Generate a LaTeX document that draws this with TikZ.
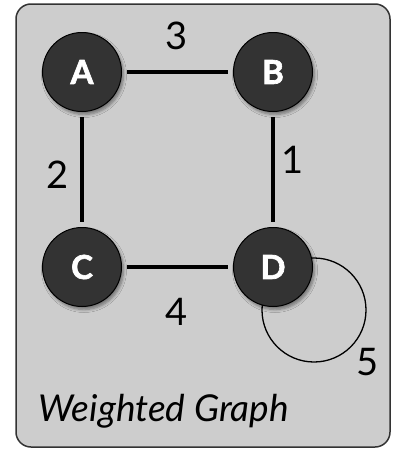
\documentclass[tikz,border=0pt]{standalone}
\usepackage{fontspec}
\setmainfont{Lato}
\newfontfamily\vertexfont{Lato}[BoldFeatures={FakeBold=2}]
\usetikzlibrary{shadows.blur}
\definecolor{panel}{HTML}{CDCDCD}
\definecolor{vertexfill}{HTML}{333333}
\tikzset{
  vertex/.style={circle, draw=black, line width=1pt, fill=vertexfill,
    minimum size=79pt, inner sep=0pt, text=white,
    font=\vertexfont\fontsize{33}{33}\selectfont\bfseries,
    blur shadow={shadow xshift=2pt, shadow yshift=-3pt, shadow blur steps=6,
      shadow blur radius=3pt, shadow opacity=45}},
  edge/.style={line width=4.2pt, shorten <=5pt, shorten >=5pt},
  weight/.style={font=\fontsize{38}{38}\selectfont},
  selfloop/.style={line width=1.3pt}
}
\begin{document}
\begin{tikzpicture}[x=1pt, y=-1pt]
  \useasboundingbox (0,0) rectangle (393,450);
  % panel
  \draw[fill=panel, draw=black!80, line width=1.5pt, rounded corners=15pt]
    (16,4) rectangle (390,447);
  % self-loop on D, drawn first so the vertex covers it
  \coordinate (Dloop) at (314,310);
  \draw[selfloop] (Dloop) circle[radius=52];
  % vertices
  \node[vertex] (A) at (82,72) {A};
  \node[vertex] (B) at (273,72) {B};
  \node[vertex] (C) at (82,267) {C};
  \node[vertex] (D) at (273,267) {D};
  % edges
  \draw[edge] (A) -- (B);
  \draw[edge] (A) -- (C);
  \draw[edge] (B) -- (D);
  \draw[edge] (C) -- (D);
  % weights
  \node[weight] (w3) at (177,36) {3};
  \node[weight] (w2) at (58,175) {2};
  \node[weight] (w1) at (293,160) {1};
  \node[weight] (w4) at (177,312) {4};
  \node[weight] (w5) at (368,362) {5};
  % caption
  \node[anchor=base west, font=\fontsize{37}{37}\selectfont\itshape] (title)
    at (35,421) {Weighted Graph};
\end{tikzpicture}
\end{document}
